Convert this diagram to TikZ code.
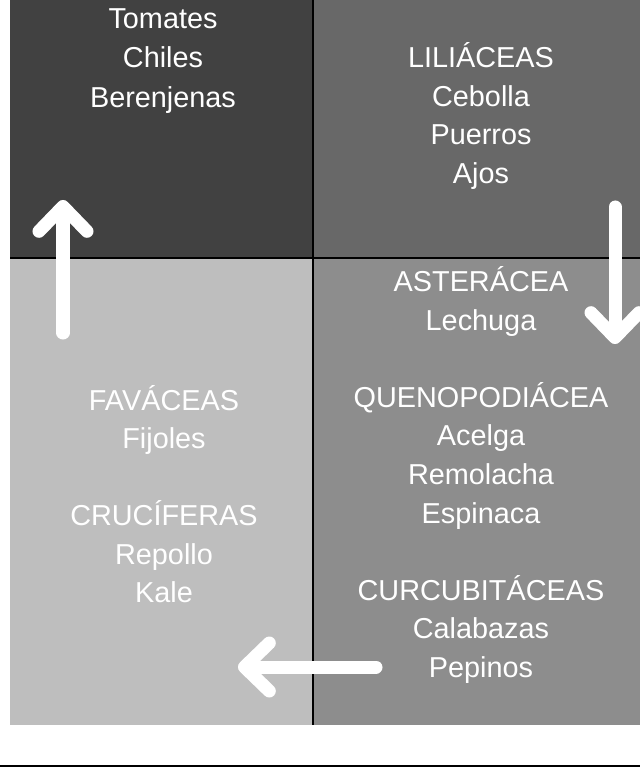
\documentclass[tikz,border=0pt]{standalone}
\usepackage{fontspec}
\setmainfont{Liberation Sans}
\usetikzlibrary{arrows.meta}
\definecolor{tlgray}{HTML}{414141}
\definecolor{trgray}{HTML}{686868}
\definecolor{blgray}{HTML}{BEBEBE}
\definecolor{brgray}{HTML}{8D8D8D}
\begin{document}
\begin{tikzpicture}[x=0.025cm, y=-0.025cm,
  cropnode/.style={text=white, align=center, inner sep=0pt, font=\fontsize{20.5}{27.4}\selectfont},
  turnarrow/.style={white, line width=0.325cm, line cap=round, -{Straight Barb[round, length=0.62cm, width=1.2cm]}}]
  \useasboundingbox (0,0) rectangle (640,774);
  % Fields
  \fill[tlgray] (10,0) rectangle (313,258);
  \fill[trgray] (313,0) rectangle (640,258);
  \fill[blgray] (10,258) rectangle (313,725);
  \fill[brgray] (313,258) rectangle (640,725);
  \draw[line width=0.06cm] (313,0) -- (313,725);
  \draw[line width=0.06cm] (10,258) -- (640,258);
  \draw[line width=0.06cm] (0,766) -- (640,766);
  % Crops
  \node[cropnode, font=\fontsize{20.5}{28.3}\selectfont] at (163,61) (solan) {Tomates\\Chiles\\Berenjenas};
  \node[cropnode] at (481,116) (lili) {LILIÁCEAS\\Cebolla\\Puerros\\Ajos};
  \node[cropnode] at (481,475) (aster) {ASTERÁCEA\\Lechuga\\~\\QUENOPODIÁCEA\\Acelga\\Remolacha\\Espinaca\\~\\CURCUBITÁCEAS\\Calabazas\\Pepinos};
  \node[cropnode] at (164,494) (fava) {FAVÁCEAS\\Fijoles\\~\\CRUCÍFERAS\\Repollo\\Kale};
  % Arrows
  \coordinate (upS) at (63,333);
  \coordinate (upT) at (63,200);
  \coordinate (downS) at (615,207);
  \coordinate (downT) at (615,344);
  \coordinate (leftS) at (376,667);
  \coordinate (leftT) at (238,667);
  \draw[turnarrow] (upS) -- (upT);
  \draw[turnarrow] (downS) -- (downT);
  \draw[turnarrow] (leftS) -- (leftT);
\end{tikzpicture}
\end{document}
